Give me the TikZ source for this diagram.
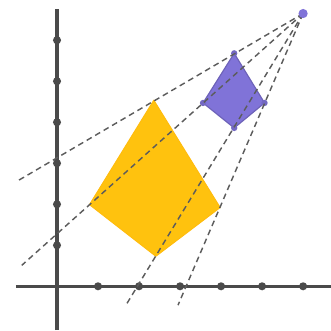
\documentclass[tikz,border=0pt]{standalone}
\usepackage{tikz}
\usepackage{xcolor}
\definecolor{axisgray}{HTML}{4A4A4A}
\definecolor{gold}{HTML}{FFC20E}
\definecolor{violet}{HTML}{8073D8}
\begin{document}
\begin{tikzpicture}[x=1cm,y=1cm,
  axis/.style={axisgray,line width=2.3pt},
  tickdot/.style={fill=axisgray,draw=none},
  ray/.style={axisgray!90,line width=1pt,dash pattern=on 4pt off 2.8pt},
  bigpoly/.style={fill=gold,draw=gold!90!orange,line width=0.6pt,line join=round},
  smallpoly/.style={fill=violet,draw=violet!85!black,line width=0.8pt,line join=round}]
  \useasboundingbox (-1.39,-1.07) rectangle (6.68,6.98);
  % axes with unit dots
  \draw[axis] (-1.0,0) -- (6.68,0); \draw[axis] (0,-1.07) -- (0,6.75);
  \foreach \k in {1,...,6} {\fill[tickdot] (\k,0) circle (2.8pt); \fill[tickdot] (0,\k) circle (2.8pt);}
  % centre and vertices
  \coordinate (O) at (6.0,6.65);
  \coordinate (A) at (2.36,4.54); \coordinate (B) at (0.79,1.99); \coordinate (C) at (2.41,0.73); \coordinate (D) at (3.98,1.92);
  \coordinate (A') at (4.32,5.68); \coordinate (B') at (3.56,4.47); \coordinate (C') at (4.32,3.86); \coordinate (D') at (5.06,4.47);
  \coordinate (a) at (-0.96,2.57); \coordinate (b) at (-0.86,0.51); \coordinate (c) at (1.68,-0.46); \coordinate (d) at (2.95,-0.46);
  \filldraw[bigpoly] (A) -- (B) -- (C) -- (D) -- cycle;
  \filldraw[smallpoly] (A') -- (B') -- (C') -- (D') -- cycle;
  \foreach \p in {A',B',C',D'} \fill[violet!90!black] (\p) circle (2.2pt);
  % rays from the centre
  \draw[ray] (O) -- (a); \draw[ray] (O) -- (b); \draw[ray] (O) -- (c); \draw[ray] (O) -- (d);
  \fill[violet] (O) circle (3.2pt);
\end{tikzpicture}
\end{document}
